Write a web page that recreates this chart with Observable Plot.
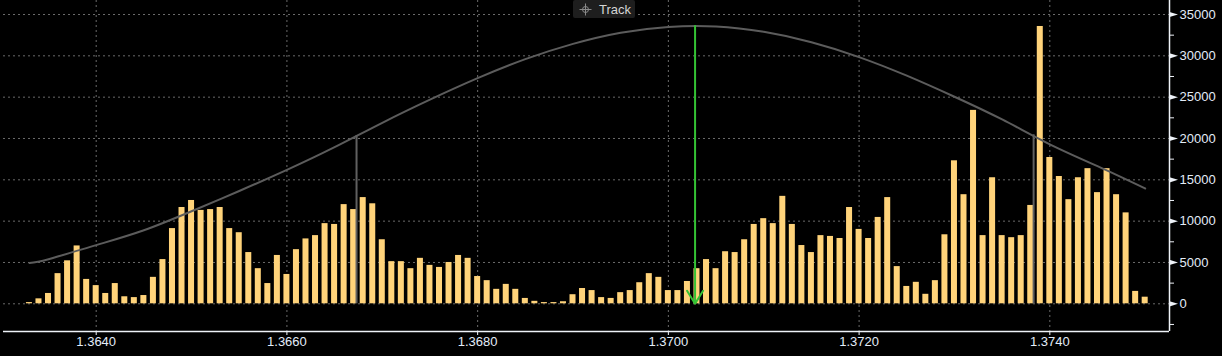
<!DOCTYPE html>
<html>
<head>
<meta charset="utf-8">
<script src="https://cdn.jsdelivr.net/npm/d3@7"></script>
<script src="https://cdn.jsdelivr.net/npm/@observablehq/plot@0.6"></script>
<style>
  html, body { margin: 0; padding: 0; background: #000; }
  #wrap { position: relative; width: 1222px; height: 356px; overflow: hidden; background: #000; }
  #track { position: absolute; left: 573px; top: 0px; width: 62px; height: 18px; background: #1e1e1e;
           border-radius: 2px; color: #d4d4d4; font: 13px "Liberation Sans", Arial, sans-serif; }
  #track svg { position: absolute; left: 6px; top: 3px; }
  #track span { position: absolute; left: 26px; top: 2px; }
</style>
</head>
<body>
<div id="wrap">
  <div id="chart"></div>
  <div id="track">
    <svg width="13" height="13" viewBox="0 0 13 13">
      <circle cx="6.5" cy="6.5" r="3" fill="none" stroke="#8a8a8a" stroke-width="1"/>
      <path d="M6.5 0.5V12.5M0.5 6.5H12.5" stroke="#8a8a8a" stroke-width="1"/>
    </svg>
    <span>Track</span>
  </div>
</div>
<script>
// Price levels (bins)
const prices = [
  1.3633, 1.3634, 1.3635, 1.3636, 1.3637, 1.3638, 1.3639,
  1.3640, 1.3641, 1.3642, 1.3643, 1.3644, 1.3645, 1.3646, 1.3647, 1.3648, 1.3649,
  1.3650, 1.3651, 1.3652, 1.3653, 1.3654, 1.3655, 1.3656, 1.3657, 1.3658, 1.3659,
  1.3660, 1.3661, 1.3662, 1.3663, 1.3664, 1.3665, 1.3666, 1.3667, 1.3668, 1.3669,
  1.3670, 1.3671, 1.3672, 1.3673, 1.3674, 1.3675, 1.3676, 1.3677, 1.3678, 1.3679,
  1.3680, 1.3681, 1.3682, 1.3683, 1.3684, 1.3685, 1.3686, 1.3687, 1.3688, 1.3689,
  1.3690, 1.3691, 1.3692, 1.3693, 1.3694, 1.3695, 1.3696, 1.3697, 1.3698, 1.3699,
  1.3700, 1.3701, 1.3702, 1.3703, 1.3704, 1.3705, 1.3706, 1.3707, 1.3708, 1.3709,
  1.3710, 1.3711, 1.3712, 1.3713, 1.3714, 1.3715, 1.3716, 1.3717, 1.3718, 1.3719,
  1.3720, 1.3721, 1.3722, 1.3723, 1.3724, 1.3725, 1.3726, 1.3727, 1.3728, 1.3729,
  1.3730, 1.3731, 1.3732, 1.3733, 1.3734, 1.3735, 1.3736, 1.3737, 1.3738, 1.3739,
  1.3740, 1.3741, 1.3742, 1.3743, 1.3744, 1.3745, 1.3746, 1.3747, 1.3748, 1.3749,
  1.3750
];
// Volume at each price level
const volumes = [
  150, 600, 1250, 3650, 5200, 7000, 2950,
  2200, 1250, 2450, 850, 750, 1000, 3200, 5350, 9100, 11650,
  12500, 11300, 11400, 11650, 9100, 8600, 6200, 4250, 2450, 5850,
  3550, 6550, 7850, 8250, 9700, 9600, 12000, 11400, 12850, 12100,
  7750, 5100, 5100, 4250, 5500, 4650, 4400, 5000, 5850, 5500,
  3300, 2800, 1750, 2350, 1750, 650, 300, 150, 150, 250,
  1100, 1850, 1600, 750, 650, 1350, 1600, 2550, 3650, 3200,
  1600, 1600, 2700, 4250, 5350, 4250, 6300, 6200, 7750, 9600,
  10300, 9700, 13000, 9600, 7050, 6200, 8250, 8150, 7900, 11650,
  9000, 7900, 10450, 12850, 4500, 2100, 2600, 1150, 2800, 8350,
  17300, 13200, 23400, 8250, 15250, 8250, 8000, 8250, 11900, 33550,
  17700, 15400, 12600, 15250, 16350, 13450, 16350, 13200, 11000, 1500,
  800
];
// Distribution curve
const curvePrices = [1.3633, 1.3635, 1.3640, 1.3645, 1.3650, 1.3655, 1.3660, 1.3665, 1.3670,
  1.3675, 1.3680, 1.3685, 1.3690, 1.3695, 1.3700, 1.3705, 1.3710, 1.3715, 1.3720, 1.3725,
  1.3730, 1.3735, 1.3740, 1.3745, 1.3750];
const curveValues = [4950, 5400, 7100, 8900, 11200, 13650, 16200, 18950, 21900,
  24700, 27300, 29600, 31450, 32800, 33500, 33550, 32900, 31650, 29850, 27600,
  25050, 22300, 19300, 16650, 13950];
// Band markers (grey) and centre marker (green)
const bandPrices = [1.36673, 1.37383];
const bandValues = [20350, 20450];
const centrePrice = 1.37028;
const centreValue = 33600;
// Axis ticks
const xTicks = [1.3640, 1.3660, 1.3680, 1.3700, 1.3720, 1.3740];
const yTicks = [0, 5000, 10000, 15000, 20000, 25000, 30000, 35000];
const yMinorTicks = [-2500, 2500, 7500, 12500, 17500, 22500, 27500, 32500];

const xDomain = [1.363028, 1.375255];
const yDomain = [-3351, 36694];
const halfBar = 0.0000315;

const bars = prices.map((p, i) => ({p, v: volumes[i]}));
const curve = curvePrices.map((p, i) => ({p, v: curveValues[i]}));
const bands = bandPrices.map((p, i) => ({p, v: bandValues[i]}));
const centre = [{p: centrePrice, v: centreValue}];

const flag = {
  draw(ctx) { ctx.moveTo(0, -2.6); ctx.lineTo(8.5, 0); ctx.lineTo(0, 2.6); ctx.closePath(); }
};

const axisCol = "#eef2f8";
const labelCol = "#e3ecf8";
const gridCol = "#6a6a6a";

const chart = Plot.plot({
  width: 1222,
  height: 356,
  marginLeft: 3,
  marginRight: 53,
  marginTop: 0,
  marginBottom: 25,
  style: {background: "#000", color: labelCol, fontFamily: "'Liberation Sans', Arial, sans-serif", fontSize: "13px"},
  x: {domain: xDomain},
  y: {domain: yDomain},
  marks: [
    Plot.ruleY(yTicks, {stroke: gridCol, strokeDasharray: "2,3"}),
    Plot.ruleX(xTicks, {stroke: gridCol, strokeDasharray: "2,3"}),
    Plot.rect(bars, {x1: d => d.p - halfBar, x2: d => d.p + halfBar, y1: 0, y2: "v", fill: "#ffd37a"}),
    Plot.line(curve, {x: "p", y: "v", stroke: "#5c5c5c", strokeWidth: 2, curve: "natural"}),
    Plot.ruleX(bands, {x: "p", y1: 0, y2: "v", stroke: "#606060", strokeWidth: 2}),
    Plot.arrow(centre, {x1: "p", x2: "p", y1: "v", y2: 0, stroke: "#34c234", strokeWidth: 2,
      headLength: 11.5, headAngle: 63}),
    Plot.ruleY([yDomain[0]], {stroke: axisCol, strokeWidth: 1.5}),
    Plot.ruleX([xDomain[1]], {stroke: axisCol, strokeWidth: 1.5}),
    Plot.axisX(xTicks, {tickSize: 4, tickPadding: 1, stroke: axisCol, tickFormat: d3.format(".4f"), label: null}),
    Plot.axisY(yTicks, {anchor: "right", tickSize: 0, tickPadding: 10, tickFormat: d => String(d), label: null}),
    Plot.axisY(yMinorTicks, {anchor: "right", tickSize: 4, stroke: axisCol, tickFormat: () => "", label: null}),
    Plot.dot(yTicks, {x: xDomain[1], y: d => d, symbol: flag, r: 3, fill: axisCol, stroke: "none"})
  ]
});
document.getElementById("chart").appendChild(chart);
</script>
</body>
</html>
